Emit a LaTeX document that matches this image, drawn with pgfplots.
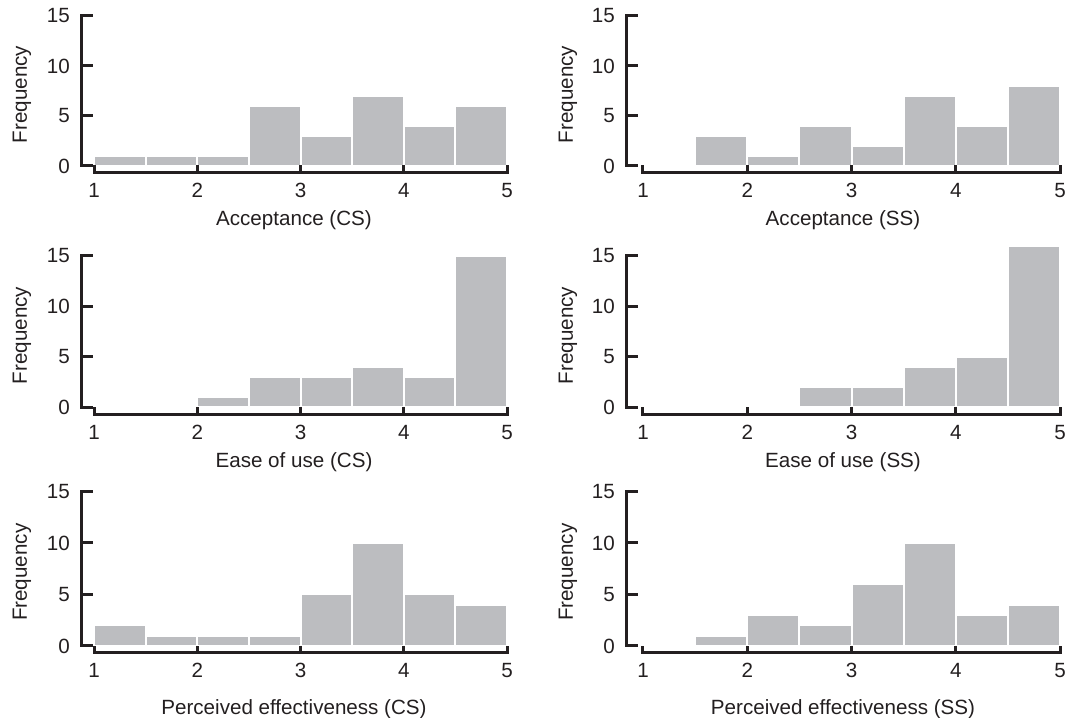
\documentclass[border=0pt]{standalone}
\usepackage{fontspec}
\setmainfont{Liberation Sans}
\usepackage{pgfplots}
\pgfplotsset{compat=1.18}

\definecolor{barg}{RGB}{188,189,192}
\definecolor{axc}{RGB}{35,31,32}

\tikzset{axl/.style={line width=1.5pt, color=axc, line cap=rect}}

\pgfplotsset{
  hist/.style={
    scale only axis, anchor=south west,
    xmax=5, ymax=15,
    axis lines*=left, axis line style={draw=none},
    xtick={1,2,3,4,5}, ytick={0,5,10,15},
    tick align=inside,
    tick style={line width=1.5pt, color=axc, line cap=rect},
    major tick length=5pt,
    xtick style={draw=none},
    /pgf/number format/assume math mode=true,
    ticklabel style={color=axc},
    xticklabel style={yshift=-1.5pt},
    yticklabel style={xshift=-2pt},
    label style={color=axc},
    xlabel style={anchor=center},
    ylabel={Frequency},
    clip=false,
  },
  histbar/.style={ybar, bar width=0.5, fill=barg, draw=white, line width=1pt},
}

% axis lines kept apart at the corner, short inward x ticks
% #1 = x of the y axis line, #2 = y of the x axis line, #3 = top of the x ticks
\newcommand{\histframe}[3]{%
  \draw[axl] (axis cs:#1,0) -- (axis cs:#1,15);
  \draw[axl] (axis cs:1,#2) -- (axis cs:5,#2);
  \draw[axl] (axis cs:1,#2) -- (axis cs:1,#3);
  \draw[axl] (axis cs:2,#2) -- (axis cs:2,#3);
  \draw[axl] (axis cs:3,#2) -- (axis cs:3,#3);
  \draw[axl] (axis cs:4,#2) -- (axis cs:4,#3);
  \draw[axl] (axis cs:5,#2) -- (axis cs:5,#3);
}

\begin{document}
\fontsize{10.3}{12.4}\selectfont
\begin{tikzpicture}

% row 1
\begin{axis}[hist, at={(40.5pt,272.5pt)}, width=213pt, height=78.5pt,
  xmin=0.874, ymin=-0.7,
  xlabel={Acceptance (CS)},
  xlabel style={at={(axis description cs:0.5,-0.30)}},
  ylabel style={at={(axis description cs:-0.1385,0.5)}, anchor=center}]
\addplot[histbar] coordinates {(1.25,1) (1.75,1) (2.25,1) (2.75,6) (3.25,3) (3.75,7) (4.25,4) (4.75,6)};
\histframe{0.874}{-0.7}{-0.1}
\end{axis}

\begin{axis}[hist, at={(313pt,272.5pt)}, width=217pt, height=78.5pt,
  xmin=0.837, ymin=-0.7,
  xlabel={Acceptance (SS)},
  xlabel style={at={(axis description cs:0.5,-0.30)}},
  ylabel style={at={(axis description cs:-0.134,0.5)}, anchor=center}]
\addplot[histbar] coordinates {(1.25,0) (1.75,3) (2.25,1) (2.75,4) (3.25,2) (3.75,7) (4.25,4) (4.75,8)};
\histframe{0.837}{-0.7}{-0.1}
\end{axis}

% row 2
\begin{axis}[hist, at={(40.5pt,151.5pt)}, width=213pt, height=79.5pt,
  xmin=0.874, ymin=-0.79,
  xlabel={Ease of use (CS)},
  xlabel style={at={(axis description cs:0.5,-0.296)}},
  ylabel style={at={(axis description cs:-0.1385,0.5)}, anchor=center}]
\addplot[histbar] coordinates {(1.25,0) (1.75,0) (2.25,1) (2.75,3) (3.25,3) (3.75,4) (4.25,3) (4.75,15)};
\histframe{0.874}{-0.79}{-0.19}
\end{axis}

\begin{axis}[hist, at={(313pt,151.5pt)}, width=217pt, height=79.5pt,
  xmin=0.837, ymin=-0.79,
  xlabel={Ease of use (SS)},
  xlabel style={at={(axis description cs:0.5,-0.296)}},
  ylabel style={at={(axis description cs:-0.134,0.5)}, anchor=center}]
\addplot[histbar] coordinates {(1.25,0) (1.75,0) (2.25,0) (2.75,2) (3.25,2) (3.75,4) (4.25,5) (4.75,16)};
\histframe{0.837}{-0.79}{-0.19}
\end{axis}

% row 3
\begin{axis}[hist, at={(40.5pt,32.5pt)}, width=213pt, height=80.75pt,
  xmin=0.874, ymin=-0.68,
  xlabel={Perceived effectiveness (CS)},
  xlabel style={at={(axis description cs:0.5,-0.347)}},
  ylabel style={at={(axis description cs:-0.1385,0.5)}, anchor=center}]
\addplot[histbar] coordinates {(1.25,2) (1.75,1) (2.25,1) (2.75,1) (3.25,5) (3.75,10) (4.25,5) (4.75,4)};
\histframe{0.874}{-0.68}{-0.1}
\end{axis}

\begin{axis}[hist, at={(313pt,32.5pt)}, width=217pt, height=80.75pt,
  xmin=0.837, ymin=-0.68,
  xlabel={Perceived effectiveness (SS)},
  xlabel style={at={(axis description cs:0.5,-0.347)}},
  ylabel style={at={(axis description cs:-0.134,0.5)}, anchor=center}]
\addplot[histbar] coordinates {(1.25,0) (1.75,1) (2.25,3) (2.75,2) (3.25,6) (3.75,10) (4.25,3) (4.75,4)};
\histframe{0.837}{-0.68}{-0.1}
\end{axis}

\pgfresetboundingbox
\useasboundingbox (0,0) rectangle (536pt,359pt);
\end{tikzpicture}
\end{document}
